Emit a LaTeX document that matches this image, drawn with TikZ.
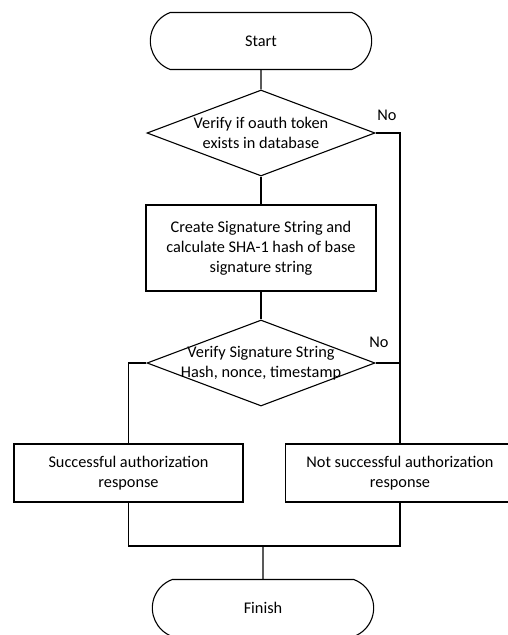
\documentclass[tikz,border=0pt]{standalone}
\usepackage{fontspec}
\setmainfont{Carlito}
\usetikzlibrary{shapes.geometric,shapes.misc}

\begin{document}
\begin{tikzpicture}[x=1pt,y=-1pt,
	font=\fontsize{16.3}{19.8}\selectfont,
	line width=1.1pt,
	terminal/.style={draw,rounded rectangle,rounded rectangle arc length=140,
		minimum width=228pt,minimum height=57pt},
	decision/.style={draw,diamond,inner sep=0pt,minimum width=228pt,minimum height=86pt},
	process/.style={draw,rectangle,align=center,minimum width=230pt,minimum height=86pt},
	result/.style={draw,rectangle,align=center,minimum width=229pt,minimum height=58pt}]
	\useasboundingbox (0,0) rectangle (507,635);
	% shapes
	\node [terminal] (start) at (261,41) {Start};
	\node [decision] (token) at (261,133) {};
	\node [align=center] (tokentxt) at (token) {Verify if oauth token\\exists in database};
	\node [process] (sigbox) at (261,248) {Create Signature String and\\calculate SHA-1 hash of base\\signature string};
	\node [decision] (sigcheck) at (261,363) {};
	\node [align=center] (sigtxt) at (sigcheck) {Verify Signature String\\Hash, nonce, timestamp};
	\node [result] (okbox) at (128.5,473) {Successful authorization\\response};
	\node [result] (failbox) at (400,473) {Not successful authorization\\response};
	\node [terminal] (finish) at (263,608) {Finish};
	\node (no1) at (387,115) {No};
	\node (no2) at (379,342) {No};
	% connectors
	\draw (start) -- (token);
	\draw (token) -- (sigbox);
	\draw (sigbox) -- (sigcheck);
	\draw (token.east) -| (failbox.north);
	\draw (sigcheck.east) -- (sigcheck.east -| failbox.north);
	\draw (sigcheck.west) -| (okbox.north);
	\coordinate (merge) at (263,546);
	\draw (okbox.south) |- (merge) -| (failbox.south);
	\draw (merge) -- (finish);
\end{tikzpicture}
\end{document}
